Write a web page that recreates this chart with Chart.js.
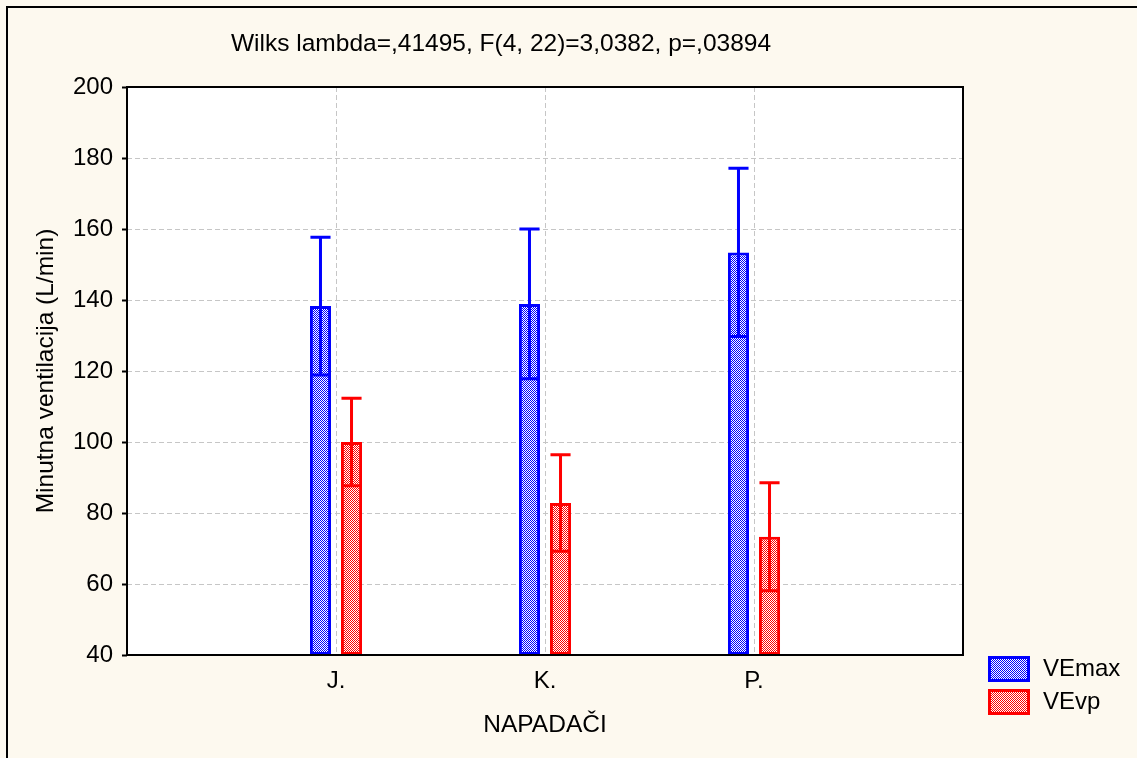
<!DOCTYPE html>
<html>
<head>
<meta charset="utf-8">
<script src="https://cdn.jsdelivr.net/npm/chart.js@4.4.1/dist/chart.umd.min.js"></script>
<style>
  html, body { margin: 0; padding: 0; background: #fdf9ef; }
  #caixa { width: 1137px; height: 758px; position: relative; }
</style>
</head>
<body>
<div id="caixa"><canvas id="grafico" width="1137" height="758"></canvas></div>
<script>
const categorias = ['J.', 'K.', 'P.'];
const veMax = [138.3, 138.9, 153.4];
const veMaxErro = [19.4, 21.1, 23.7];
const veVp = [100.0, 82.8, 73.3];
const veVpErro = [12.3, 13.6, 15.2];
const yTicks = [40, 60, 80, 100, 120, 140, 160, 180, 200];
const titulo = 'Wilks lambda=,41495, F(4, 22)=3,0382, p=,03894';
const rotuloY = 'Minutna ventilacija (L/min)';
const rotuloX = 'NAPADAČI';
const series = ['VEmax', 'VEvp'];

const fonte = '"Liberation Sans", Arial, sans-serif';
const corGrade = '#c6c6c6';
const fundo = '#fdf9ef';

// empty slots at the ends put the groups at 1/4, 2/4, 3/4 of the width
const rotulos = ['', ...categorias, ''];
const base = yTicks[0];

const canvas = document.getElementById('grafico');
const ctx = canvas.getContext('2d');

// fine checker hatch like the original fill
function hachura(cor) {
  const c = document.createElement('canvas');
  c.width = 2; c.height = 2;
  const g = c.getContext('2d');
  g.fillStyle = '#ffffff'; g.fillRect(0, 0, 2, 2);
  g.fillStyle = cor; g.fillRect(0, 0, 1, 1); g.fillRect(1, 1, 1, 1);
  return ctx.createPattern(c, 'repeat');
}

const flutuante = vals => [null, ...vals.map(v => [base, v]), null];

const conjuntos = [
  { label: series[0], medias: veMax, erros: veMaxErro, cor: '#0000ff' },
  { label: series[1], medias: veVp, erros: veVpErro, cor: '#ff0000' }
].map(s => ({
  label: s.label,
  data: flutuante(s.medias),
  medias: s.medias,
  erros: s.erros,
  backgroundColor: hachura(s.cor),
  borderColor: s.cor,
  borderWidth: 3,
  borderSkipped: false,
  categoryPercentage: 0.297,
  barPercentage: 0.68
}));

// fundo, moldura, titulo e legenda
const moldura = {
  id: 'moldura',
  beforeDraw(chart) {
    const { ctx, chartArea: a } = chart;
    ctx.save();
    ctx.fillStyle = fundo;
    ctx.fillRect(0, 0, chart.width, chart.height);
    ctx.fillStyle = '#ffffff';
    ctx.fillRect(a.left, a.top, a.right - a.left, a.bottom - a.top);
    ctx.restore();
  },
  afterDraw(chart) {
    const { ctx, chartArea: a } = chart;
    ctx.save();
    ctx.strokeStyle = '#000';
    ctx.lineWidth = 2;
    ctx.strokeRect(7, 7, chart.width + 10, chart.height + 10);
    ctx.strokeRect(a.left, a.top, a.right - a.left, a.bottom - a.top);

    ctx.fillStyle = '#000';
    ctx.font = '24.5px ' + fonte;
    ctx.textBaseline = 'middle';
    ctx.textAlign = 'center';
    ctx.fillText(titulo, 501, 44);

    chart.data.datasets.forEach((ds, i) => {
      const y = 656 + i * 33;
      ctx.fillStyle = ds.backgroundColor;
      ctx.fillRect(988, y, 42, 26);
      ctx.strokeStyle = ds.borderColor;
      ctx.lineWidth = 3;
      ctx.strokeRect(989.5, y + 1.5, 39, 23);
      ctx.fillStyle = '#000';
      ctx.textAlign = 'left';
      ctx.font = '24px ' + fonte;
      ctx.fillText(ds.label, 1043, y + 13);
    });
    ctx.restore();
  }
};

// barras de erro: linha do limite inferior ao superior com traços nas pontas
const barrasErro = {
  id: 'barrasErro',
  afterDatasetsDraw(chart) {
    const { ctx, scales: { y } } = chart;
    chart.data.datasets.forEach((ds, i) => {
      const meta = chart.getDatasetMeta(i);
      ds.medias.forEach((m, j) => {
        const barra = meta.data[j + 1];
        const meio = barra.width / 2 - 0.5;
        const yAlto = y.getPixelForValue(m + ds.erros[j]);
        const yBaixo = y.getPixelForValue(m - ds.erros[j]);
        ctx.save();
        ctx.strokeStyle = ds.borderColor;
        ctx.lineWidth = 3;
        ctx.beginPath();
        ctx.moveTo(barra.x, yAlto); ctx.lineTo(barra.x, yBaixo);
        ctx.moveTo(barra.x - meio, yAlto); ctx.lineTo(barra.x + meio, yAlto);
        ctx.moveTo(barra.x - meio, yBaixo); ctx.lineTo(barra.x + meio, yBaixo);
        ctx.stroke();
        ctx.restore();
      });
    });
  }
};

new Chart(ctx, {
  type: 'bar',
  data: { labels: rotulos, datasets: conjuntos },
  plugins: [moldura, barrasErro],
  options: {
    responsive: false,
    animation: false,
    layout: { padding: { left: 0, top: 87, right: 174, bottom: 0 } },
    plugins: { legend: { display: false }, title: { display: false }, tooltip: { enabled: false } },
    scales: {
      x: {
        type: 'category',
        offset: false,
        afterFit: s => { s.height = 103; },
        grid: { color: corGrade, drawTicks: false, lineWidth: 1, offset: false },
        border: { display: false, dash: [5, 3] },
        ticks: { color: '#000', font: { family: fonte, size: 24 }, padding: 12, maxRotation: 0, autoSkip: false },
        title: { display: true, text: rotuloX, color: '#000', font: { family: fonte, size: 24.5 }, padding: { bottom: 18 } }
      },
      y: {
        min: yTicks[0],
        max: yTicks[yTicks.length - 1],
        afterFit: s => { s.width = 127; },
        afterBuildTicks: s => { s.ticks = yTicks.map(v => ({ value: v })); },
        grid: { color: corGrade, lineWidth: 1, tickLength: 5, tickColor: '#000', tickWidth: 2, tickBorderDash: [] },
        border: { display: false, dash: [5, 3] },
        ticks: { color: '#000', font: { family: fonte, size: 24 }, padding: 9 },
        title: { display: true, text: rotuloY, color: '#000', font: { family: fonte, size: 24.5 }, padding: { top: 32 } }
      }
    }
  }
});
</script>
</body>
</html>
